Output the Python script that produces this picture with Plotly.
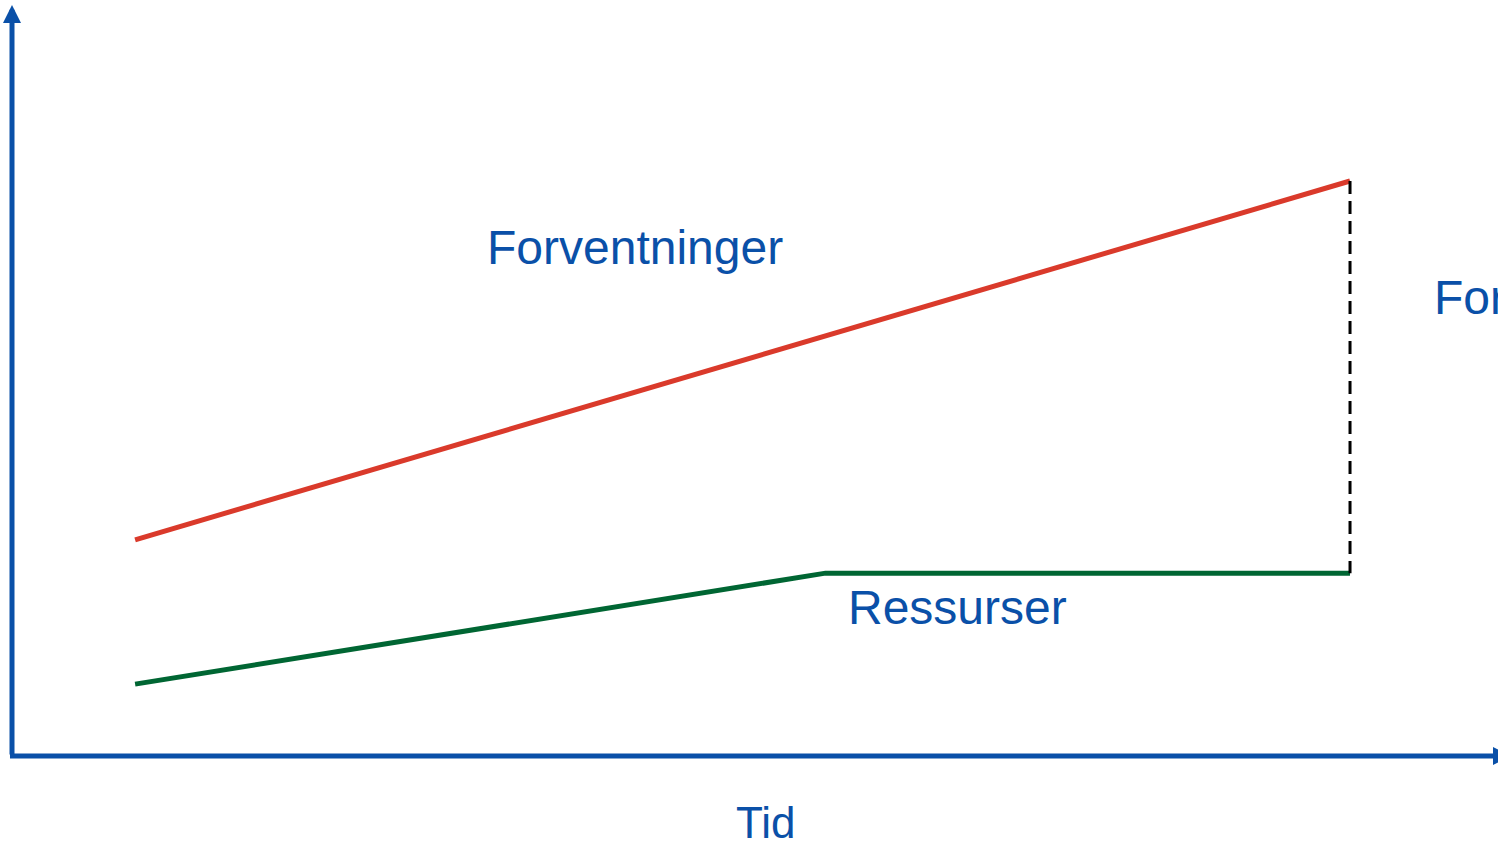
import plotly.graph_objects as go

# Data (arbitrary "time" units on x, arbitrary level units on y)
red_time = [0.92, 10.0]
red_level = [3.76, 10.0]          # Forventninger
green_time = [0.92, 6.08, 10.0]
green_level = [1.25, 3.18, 3.18]  # Ressurser

label_expect = "Forventninger"
label_res = "Ressurser"
label_gap = "Forventningsgap"
label_x = "Tid"

BLUE = "#0A50A8"
RED = "#DA3A2B"
GREEN = "#006633"
FONT = "Liberation Sans, Arial, sans-serif"

x_range = [-0.0897, 11.106]
y_range = [-1.496, 13.148]

fig = go.Figure()

fig.add_trace(go.Scatter(x=red_time, y=red_level, mode="lines",
                         line=dict(color=RED, width=5), hoverinfo="skip"))
fig.add_trace(go.Scatter(x=green_time, y=green_level, mode="lines",
                         line=dict(color=GREEN, width=5), hoverinfo="skip"))
# gap between expectations and resources at the final time
fig.add_trace(go.Scatter(x=[red_time[-1], green_time[-1]], y=[red_level[-1], green_level[-1]],
                         mode="lines", line=dict(color="black", width=3, dash="13px,7px"),
                         hoverinfo="skip"))

# vertical axis arrow
fig.add_annotation(x=0, y=13.06, ax=0, ay=0, xref="x", yref="y", axref="x", ayref="y",
                   text="", showarrow=True, arrowhead=2, arrowsize=0.72, arrowwidth=5,
                   arrowcolor=BLUE)
# horizontal axis (arrow tip runs off the right edge)
fig.add_shape(type="line", xref="x", yref="y", x0=-0.015, x1=11.2, y0=0, y1=0,
              line=dict(color=BLUE, width=5))
fig.add_shape(type="path", xref="paper", yref="y",
              path="M 0.99666,0.1565 L 1.00868,0 L 0.99666,-0.1565 Z",
              fillcolor=BLUE, line=dict(width=0))

fig.add_annotation(x=4.656, y=8.852, text=label_expect, showarrow=False,
                   font=dict(family=FONT, size=48, color=BLUE), xanchor="center", yanchor="middle")
fig.add_annotation(x=7.07, y=2.59, text=label_res, showarrow=False,
                   font=dict(family=FONT, size=48, color=BLUE), xanchor="center", yanchor="middle")
fig.add_annotation(x=10.61, y=7.98, text=label_gap, showarrow=False,
                   font=dict(family=FONT, size=48, color=BLUE), xanchor="left", yanchor="middle")
fig.add_annotation(x=5.635, y=-1.15, text=label_x, showarrow=False,
                   font=dict(family=FONT, size=44, color=BLUE), xanchor="center", yanchor="middle")

fig.update_layout(
    width=1498, height=842,
    margin=dict(l=0, r=0, t=0, b=0),
    paper_bgcolor="white", plot_bgcolor="white",
    showlegend=False,
    xaxis=dict(range=x_range, visible=False, fixedrange=True),
    yaxis=dict(range=y_range, visible=False, fixedrange=True),
)

fig.write_html("out.html", config={"displayModeBar": False},
               post_script="document.body.style.margin='0';document.body.style.overflow='hidden';")
